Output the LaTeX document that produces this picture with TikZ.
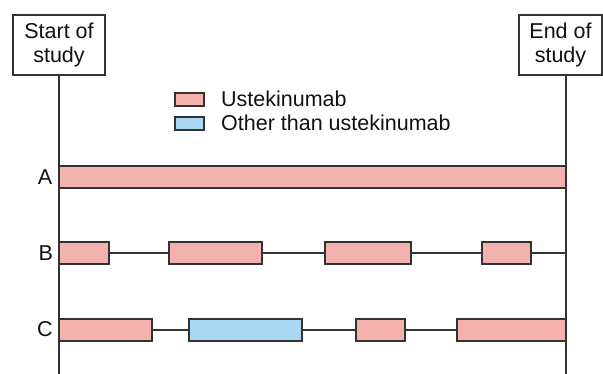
\documentclass[tikz,border=0pt]{standalone}
\usepackage{fontspec}
\setmainfont{Liberation Sans}
\definecolor{ust}{HTML}{F4B2AE}
\definecolor{oth}{HTML}{A8D8F3}
\definecolor{edge}{HTML}{333333}
\definecolor{ink}{HTML}{111111}
\begin{document}
\begin{tikzpicture}[x=1pt,y=-1pt,
  bar/.style={draw=edge, line width=1.2pt, inner sep=0pt, outer sep=0pt, minimum height=22pt, anchor=west},
  ubar/.style={bar, fill=ust},
  obar/.style={bar, fill=oth},
  lbl/.style={font=\fontsize{21.5}{24}\selectfont, text=ink, inner sep=0pt},
  studybox/.style={draw=edge, line width=1.2pt, fill=white, minimum width=92pt, minimum height=60pt,
    align=center, font=\fontsize{21.5}{24}\selectfont, text=ink, inner sep=0pt},
  link/.style={draw=edge, line width=1.2pt}]
\useasboundingbox (0,0) rectangle (603,374);
% study boxes and time lines
\node[studybox] (start) at (59,45) {Start of\\study};
\node[studybox, minimum width=83pt] (end) at (560.5,45) {End of\\study};
\coordinate (sb) at (59,374);
\coordinate (eb) at (566,374);
\draw[link] (start.south) -- (sb);
\draw[link] (end.south -| eb) -- (eb);
% legend
\node[ubar, minimum width=29pt, minimum height=13pt] (lu) at (175,99.5) {};
\node[obar, minimum width=29pt, minimum height=13pt] (lo) at (175,123.5) {};
\node[lbl, anchor=west] (tu) at (221,99) {Ustekinumab};
\node[lbl, anchor=west] (to) at (221,123) {Other than ustekinumab};
% row labels
\node[lbl] (la) at (45,177.5) {A};
\node[lbl] (lb) at (45.8,253) {B};
\node[lbl] (lc) at (45,329.5) {C};
% row A
\node[ubar, minimum width=507pt] (a1) at (59,177) {};
% row B
\coordinate (be) at (566,253);
\node[ubar, minimum width=50pt] (b1) at (59,253) {};
\node[ubar, minimum width=93pt] (b2) at (169,253) {};
\node[ubar, minimum width=86pt] (b3) at (325,253) {};
\node[ubar, minimum width=49pt] (b4) at (482,253) {};
\draw[link] (b1.east) -- (b2.west);
\draw[link] (b2.east) -- (b3.west);
\draw[link] (b3.east) -- (b4.west);
\draw[link] (b4.east) -- (be);
% row C
\node[ubar, minimum width=93pt] (c1) at (59,330) {};
\node[obar, minimum width=113pt] (c2) at (189,330) {};
\node[ubar, minimum width=49pt] (c3) at (356,330) {};
\node[ubar, minimum width=109pt] (c4) at (457,330) {};
\draw[link] (c1.east) -- (c2.west);
\draw[link] (c2.east) -- (c3.west);
\draw[link] (c3.east) -- (c4.west);
\end{tikzpicture}
\end{document}
